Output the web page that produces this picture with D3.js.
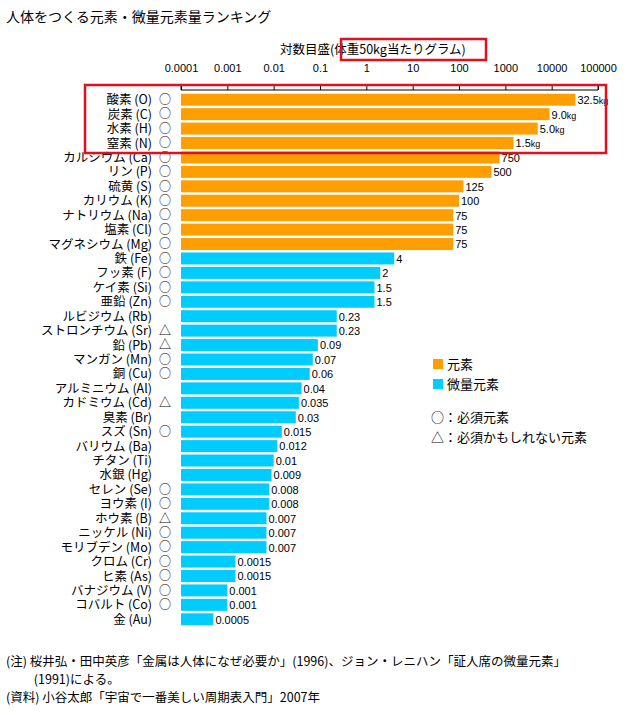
<!DOCTYPE html>
<html lang="ja">
<head>
<meta charset="utf-8">
<title>人体をつくる元素・微量元素量ランキング</title>
<script src="https://d3js.org/d3.v7.min.js"></script>
<style>
  body { margin: 0; background: #fff; }
  text { font-family: "Noto Sans CJK JP", sans-serif; fill: #000; }
</style>
</head>
<body>
<script>
// element names, grams per 50kg body, group (0 = 元素, 1 = 微量元素), mark
var names = ["酸素 (O)","炭素 (C)","水素 (H)","窒素 (N)","カルシウム (Ca)","リン (P)","硫黄 (S)","カリウム (K)","ナトリウム (Na)","塩素 (Cl)","マグネシウム (Mg)",
  "鉄 (Fe)","フッ素 (F)","ケイ素 (Si)","亜鉛 (Zn)","ルビジウム (Rb)","ストロンチウム (Sr)","鉛 (Pb)","マンガン (Mn)","銅 (Cu)","アルミニウム (Al)","カドミウム (Cd)","臭素 (Br)",
  "スズ (Sn)","バリウム (Ba)","チタン (Ti)","水銀 (Hg)","セレン (Se)","ヨウ素 (I)","ホウ素 (B)","ニッケル (Ni)","モリブデン (Mo)","クロム (Cr)","ヒ素 (As)","バナジウム (V)","コバルト (Co)","金 (Au)"];
var grams = [32500,9000,5000,1500,750,500,125,100,75,75,75,
  4,2,1.5,1.5,0.23,0.23,0.09,0.07,0.06,0.04,0.035,0.03,
  0.015,0.012,0.01,0.009,0.008,0.008,0.007,0.007,0.007,0.0015,0.0015,0.001,0.001,0.0005];
var group = [0,0,0,0,0,0,0,0,0,0,0, 1,1,1,1,1,1,1,1,1,1,1,1,1,1,1,1,1,1,1,1,1,1,1,1,1,1];
var marks = ["○","○","○","○","○","○","○","○","○","○","○",
  "○","○","○","○","","△","△","○","○","","△","",
  "○","","","","○","○","△","○","○","○","○","○","○",""];
var valueLabels = ["32.5","9.0","5.0","1.5","750","500","125","100","75","75","75",
  "4","2","1.5","1.5","0.23","0.23","0.09","0.07","0.06","0.04","0.035","0.03",
  "0.015","0.012","0.01","0.009","0.008","0.008","0.007","0.007","0.007","0.0015","0.0015","0.001","0.001","0.0005"];
var tickValues = [0.0001,0.001,0.01,0.1,1,10,100,1000,10000,100000];
var groupNames = ["元素","微量元素"];
var colors = ["#FF9E00","#00CCFF"];

var w = 641, h = 715;
var svg = d3.select("body").append("svg").attr("width", w).attr("height", h);

var x = d3.scaleLog().domain([0.0001, 100000]).range([181, 598]);
var y = d3.scaleBand().domain(names).range([93, 626]).paddingInner(0.17).paddingOuter(0.05);

svg.append("text").attr("x", 6).attr("y", 22).attr("font-size", 14).text("人体をつくる元素・微量元素量ランキング");

// axis on top
var axis = d3.axisTop(x).tickValues(tickValues).tickSize(5).tickFormat(d3.format("~f"));
var ag = svg.append("g").attr("transform", "translate(0,90)").call(axis);
ag.select(".domain").attr("d", "M181,-5V0H598V-5");
ag.selectAll("text").attr("font-size", 11).attr("dy", "-0.9em").style("font-family", "Liberation Sans, sans-serif");

svg.append("text").attr("x", 280).attr("y", 54).attr("font-size", 12.5).text("対数目盛(体重50kg当たりグラム)");
svg.append("rect").attr("x", 341).attr("y", 39).attr("width", 145).attr("height", 21)
  .attr("fill", "none").attr("stroke", "#E0101E").attr("stroke-width", 2.5);

var rows = svg.append("g").selectAll("g").data(names).enter().append("g")
  .attr("transform", function(d) { return "translate(0," + y(d) + ")"; });

rows.append("rect").attr("x", x(0.0001)).attr("y", 0)
  .attr("width", function(d, i) { return x(grams[i]) - x(0.0001); })
  .attr("height", y.bandwidth())
  .attr("fill", function(d, i) { return colors[group[i]]; });

rows.append("text").attr("x", 152).attr("y", y.bandwidth() / 2).attr("dy", "0.36em")
  .attr("text-anchor", "end").attr("font-size", 12.5).text(function(d) { return d; });

rows.append("text").attr("x", 165).attr("y", y.bandwidth() / 2).attr("dy", "0.36em")
  .attr("text-anchor", "middle").attr("font-size", 12).text(function(d, i) { return marks[i]; });

var vl = rows.append("text").attr("x", function(d, i) { return x(grams[i]) + 2; })
  .attr("y", y.bandwidth() / 2).attr("dy", "0.4em").attr("font-size", 11)
  .style("font-family", "Liberation Sans, sans-serif")
  .text(function(d, i) { return valueLabels[i]; });
vl.filter(function(d, i) { return i < 4; }).append("tspan").attr("font-size", 9).text("kg");

// red box round the top four
svg.append("rect").attr("x", 85).attr("y", 85).attr("width", 521).attr("height", 68)
  .attr("fill", "none").attr("stroke", "#E0101E").attr("stroke-width", 2.5);

// legend
var lg = svg.append("g");
groupNames.forEach(function(n, i) {
  lg.append("rect").attr("x", 433).attr("y", 359 + i * 20).attr("width", 10).attr("height", 10).attr("fill", colors[i]);
  lg.append("text").attr("x", 447).attr("y", 369 + i * 20).attr("font-size", 13).text(n);
});
lg.append("text").attr("x", 431).attr("y", 422).attr("font-size", 13).text("○：必須元素");
lg.append("text").attr("x", 431).attr("y", 442).attr("font-size", 13).text("△：必須かもしれない元素");

var notes = ["(注) 桜井弘・田中英彦「金属は人体になぜ必要か」(1996)、ジョン・レニハン「証人席の微量元素」",
  "　　 (1991)による。",
  "(資料) 小谷太郎「宇宙で一番美しい周期表入門」2007年"];
notes.forEach(function(t, i) {
  svg.append("text").attr("x", 6).attr("y", 666 + i * 18).attr("font-size", 12.5).text(t);
});
</script>
</body>
</html>
